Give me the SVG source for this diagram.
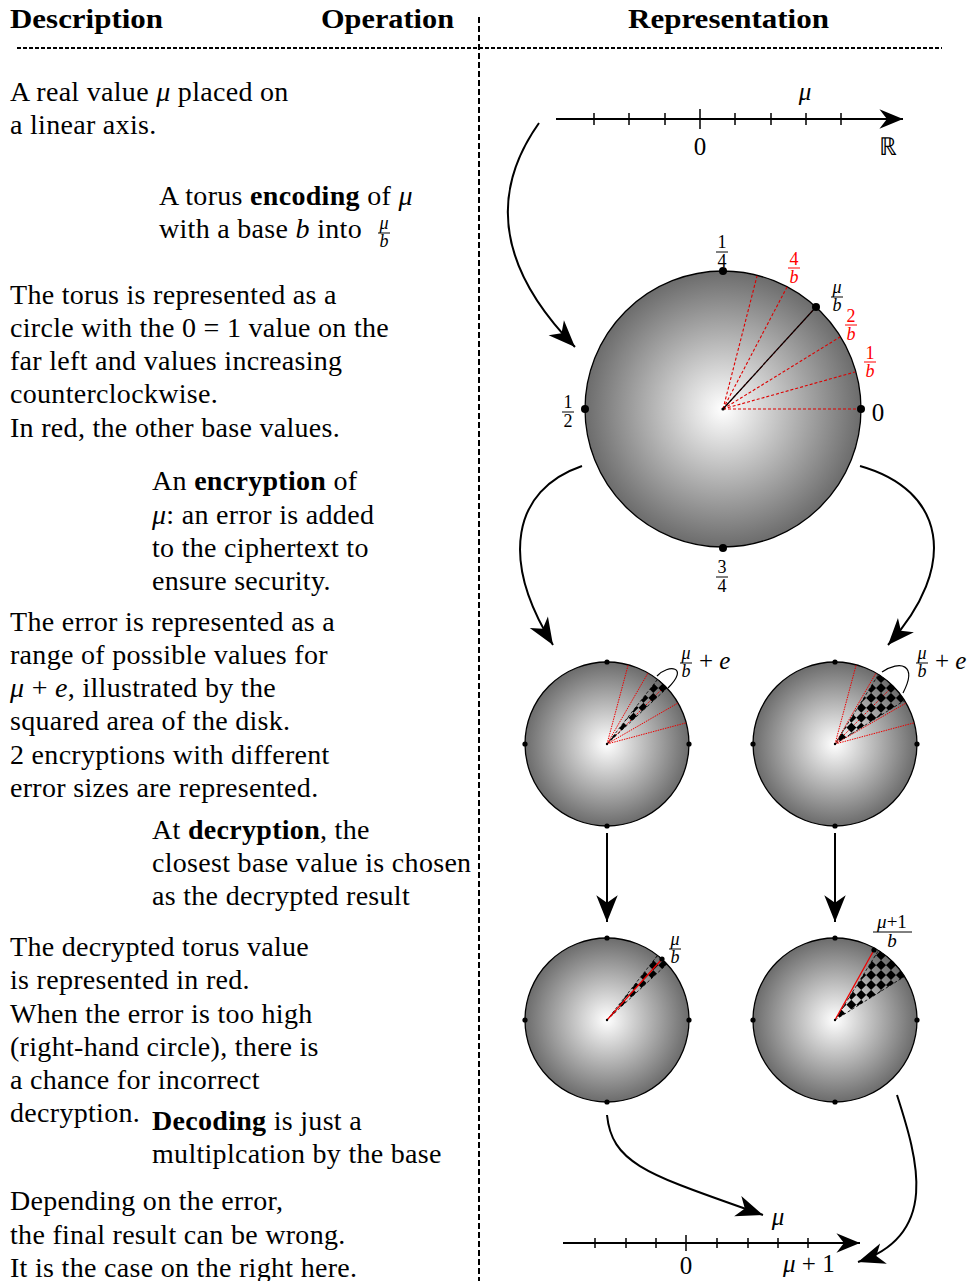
<svg xmlns="http://www.w3.org/2000/svg" width="969" height="1281" viewBox="0 0 969 1281">
<defs>
<radialGradient id="g" cx="0.5" cy="0.5" r="0.5">
<stop offset="0" stop-color="#ffffff"/>
<stop offset="1" stop-color="#6c6c6c"/>
</radialGradient>
<pattern id="chk" width="14" height="14" patternUnits="userSpaceOnUse" patternTransform="rotate(45)">
<rect width="7" height="7" fill="#000"/>
<rect x="7" y="7" width="7" height="7" fill="#000"/>
</pattern>
<marker id="st" markerUnits="userSpaceOnUse" markerWidth="30" markerHeight="30" viewBox="-26 -12 28 24" refX="0" refY="0" orient="auto">
<path d="M0,0 L-25,-10 L-18,0 L-25,10 Z" fill="#000"/>
</marker>
<marker id="sta" markerUnits="userSpaceOnUse" markerWidth="30" markerHeight="30" viewBox="-26 -12 28 24" refX="0" refY="0" orient="auto">
<path d="M0,0 L-22,-9 L-15,0 L-22,9 Z" fill="#000"/>
</marker>
</defs>
<style>
.t{font-family:"Liberation Serif","Times New Roman",serif;font-size:28px;letter-spacing:0.3px;fill:#000}
.h{font-family:"Liberation Serif","Times New Roman",serif;font-size:27px;font-weight:bold;fill:#000}
.i{font-style:italic}
.b{font-weight:bold}
.f{font-family:"Liberation Serif","Times New Roman",serif;font-size:18px;letter-spacing:0;text-anchor:middle;fill:#000}
.fi{font-style:italic}
.m{font-family:"Liberation Serif","Times New Roman",serif;font-size:25px;fill:#000}
.red{fill:#ff0000}
.bar{stroke:#000;stroke-width:1}
.rbar{stroke:#ff0000;stroke-width:1}
.conn{fill:none;stroke:#000;stroke-width:2}
.axis{fill:none;stroke:#000;stroke-width:2}
.tick{stroke:#000;stroke-width:1.5}
.circ{fill:url(#g);stroke:#000;stroke-width:1.3}
.rdash{stroke:#dd0000;stroke-width:1.1;stroke-dasharray:3 2;fill:none}
.rdot{stroke:#ee0000;stroke-width:1;stroke-dasharray:1.5 1;fill:none}
.rsol{stroke:#ee0000;stroke-width:1.3;fill:none}
.wedge{fill:url(#chk);stroke:#000;stroke-width:0.8;stroke-dasharray:3 2}
</style>
<rect width="969" height="1281" fill="#fff"/>

<g id="header">
<text class="h" x="10" y="28" textLength="153" lengthAdjust="spacingAndGlyphs">Description</text>
<text class="h" x="321" y="28" textLength="133" lengthAdjust="spacingAndGlyphs">Operation</text>
<text class="h" x="628" y="28" textLength="201" lengthAdjust="spacingAndGlyphs">Representation</text>
<line x1="17" y1="48" x2="942" y2="48" stroke="#000" stroke-width="2" stroke-dasharray="4 2"/>
<line x1="479" y1="17" x2="479" y2="1281" stroke="#000" stroke-width="2" stroke-dasharray="6 3"/>
</g>

<g id="descriptions" class="t">
<text x="10" y="101">A real value <tspan class="i">μ</tspan> placed on</text>
<text x="10" y="134">a linear axis.</text>
<text x="159" y="205">A torus <tspan class="b">encoding</tspan> of <tspan class="i">μ</tspan></text>
<text x="159" y="238">with a base <tspan class="i">b</tspan> into</text>
<text class="f fi" x="384" y="229">μ</text>
<line class="bar" x1="378" y1="233" x2="390" y2="233"/>
<text class="f fi" x="384" y="247">b</text>
<text x="10" y="304">The torus is represented as a</text>
<text x="10" y="337">circle with the 0 = 1 value on the</text>
<text x="10" y="370">far left and values increasing</text>
<text x="10" y="403">counterclockwise.</text>
<text x="10" y="437">In red, the other base values.</text>
<text x="152" y="490">An <tspan class="b">encryption</tspan> of</text>
<text x="152" y="524"><tspan class="i">μ</tspan>: an error is added</text>
<text x="152" y="557">to the ciphertext to</text>
<text x="152" y="590">ensure security.</text>
<text x="10" y="631">The error is represented as a</text>
<text x="10" y="664">range of possible values for</text>
<text x="10" y="697"><tspan class="i">μ</tspan> + <tspan class="i">e</tspan>, illustrated by the</text>
<text x="10" y="730">squared area of the disk.</text>
<text x="10" y="764">2 encryptions with different</text>
<text x="10" y="797">error sizes are represented.</text>
<text x="152" y="839">At <tspan class="b">decryption</tspan>, the</text>
<text x="152" y="872">closest base value is chosen</text>
<text x="152" y="905">as the decrypted result</text>
<text x="10" y="956">The decrypted torus value</text>
<text x="10" y="989">is represented in red.</text>
<text x="10" y="1023">When the error is too high</text>
<text x="10" y="1056">(right-hand circle), there is</text>
<text x="10" y="1089">a chance for incorrect</text>
<text x="10" y="1122">decryption.</text>
<text x="152" y="1130"><tspan class="b">Decoding</tspan> is just a</text>
<text x="152" y="1163">multiplcation by the base</text>
<text x="10" y="1210">Depending on the error,</text>
<text x="10" y="1244">the final result can be wrong.</text>
<text x="10" y="1277">It is the case on the right here.</text>
</g>

<g id="axis-top">
<line class="axis" x1="556" y1="119" x2="903" y2="119" marker-end="url(#sta)"/>
<g class="tick">
<line x1="594" y1="113" x2="594" y2="125"/>
<line x1="629" y1="113" x2="629" y2="125"/>
<line x1="665" y1="113" x2="665" y2="125"/>
<line x1="700" y1="109" x2="700" y2="129"/>
<line x1="735" y1="113" x2="735" y2="125"/>
<line x1="771" y1="113" x2="771" y2="125"/>
<line x1="806" y1="113" x2="806" y2="125"/>
<line x1="841" y1="113" x2="841" y2="125"/>
</g>
<text class="m" x="700" y="155" text-anchor="middle">0</text>
<text class="m" x="888" y="155" text-anchor="middle">ℝ</text>
<text class="m i" x="805" y="100" text-anchor="middle">μ</text>
</g>

<g id="torus">
<circle class="circ" cx="723" cy="409" r="138"/>
<g class="rdash">
<line x1="723" y1="409" x2="861" y2="409"/>
<line x1="723" y1="409" x2="855" y2="372"/>
<line x1="723" y1="409" x2="840" y2="337"/>
<line x1="723" y1="409" x2="816" y2="307"/>
<line x1="723" y1="409" x2="787" y2="287"/>
<line x1="723" y1="409" x2="757" y2="276"/>
</g>
<line x1="723" y1="409" x2="816" y2="307" stroke="#000" stroke-width="1.2"/>
<circle cx="723" cy="409" r="1.6"/>
<circle cx="723" cy="271" r="4"/>
<circle cx="585" cy="409" r="4"/>
<circle cx="861" cy="409" r="4"/>
<circle cx="723" cy="548" r="4"/>
<circle cx="816" cy="307" r="4"/>
<text class="f" x="722" y="248">1</text>
<line class="bar" x1="716" y1="252" x2="728" y2="252"/>
<text class="f" x="722" y="267">4</text>
<text class="f red" x="794" y="265">4</text>
<line class="rbar" x1="788" y1="268" x2="800" y2="268"/>
<text class="f fi red" x="794" y="283">b</text>
<text class="f fi" x="837" y="293">μ</text>
<line class="bar" x1="831" y1="297" x2="843" y2="297"/>
<text class="f fi" x="837" y="311">b</text>
<text class="f red" x="851" y="322">2</text>
<line class="rbar" x1="845" y1="325" x2="857" y2="325"/>
<text class="f fi red" x="851" y="340">b</text>
<text class="f red" x="870" y="359">1</text>
<line class="rbar" x1="864" y1="362" x2="876" y2="362"/>
<text class="f fi red" x="870" y="377">b</text>
<text class="m" x="878" y="421" text-anchor="middle">0</text>
<text class="f" x="568" y="408">1</text>
<line class="bar" x1="562" y1="412" x2="574" y2="412"/>
<text class="f" x="568" y="427">2</text>
<text class="f" x="722" y="573">3</text>
<line class="bar" x1="716" y1="577" x2="728" y2="577"/>
<text class="f" x="722" y="592">4</text>
</g>

<g id="enc-left">
<circle class="circ" cx="607" cy="744" r="82"/>
<g class="rdot">
<line x1="607" y1="744" x2="686.2" y2="722.8"/>
<line x1="607" y1="744" x2="678" y2="703"/>
<line x1="607" y1="744" x2="665" y2="686"/>
<line x1="607" y1="744" x2="648" y2="673"/>
<line x1="607" y1="744" x2="628.2" y2="664.8"/>
</g>
<path class="wedge" d="M607,744 L667,688.1 A82,82 0 0 0 657.5,679.4 Z"/>
<circle cx="607" cy="744" r="1.2"/>
<circle cx="607" cy="662" r="2.6"/>
<circle cx="525" cy="744" r="2.6"/>
<circle cx="689" cy="744" r="2.6"/>
<circle cx="607" cy="826" r="2.6"/>
<path d="M657,676 C668,664 690,666 668,688" fill="none" stroke="#000" stroke-width="1.2"/>
<text class="f fi" x="686" y="659">μ</text>
<line class="bar" x1="680" y1="663" x2="692" y2="663"/>
<text class="f fi" x="686" y="677">b</text>
<text class="m" x="699" y="669">+ <tspan class="i">e</tspan></text>
</g>

<g id="enc-right">
<circle class="circ" cx="835" cy="744" r="82"/>
<g class="rdot">
<line x1="835" y1="744" x2="914.2" y2="722.8"/>
<line x1="835" y1="744" x2="906" y2="703"/>
<line x1="835" y1="744" x2="893" y2="686"/>
<line x1="835" y1="744" x2="876" y2="673"/>
<line x1="835" y1="744" x2="856.2" y2="664.8"/>
</g>
<path class="wedge" d="M835,744 L904.5,700.5 A82,82 0 0 0 878.5,674.5 Z"/>
<circle cx="835" cy="744" r="1.2"/>
<circle cx="835" cy="662" r="2.6"/>
<circle cx="753" cy="744" r="2.6"/>
<circle cx="917" cy="744" r="2.6"/>
<circle cx="835" cy="826" r="2.6"/>
<path d="M882,672 C900,660 918,664 903,693" fill="none" stroke="#000" stroke-width="1.2"/>
<text class="f fi" x="922" y="659">μ</text>
<line class="bar" x1="916" y1="663" x2="928" y2="663"/>
<text class="f fi" x="922" y="677">b</text>
<text class="m" x="935" y="669">+ <tspan class="i">e</tspan></text>
</g>

<g id="dec-left">
<circle class="circ" cx="607" cy="1020" r="82"/>
<path class="wedge" d="M607,1020 L667,964.1 A82,82 0 0 0 657.5,955.4 Z"/>
<line class="rsol" x1="607" y1="1020" x2="662" y2="959"/>
<circle cx="607" cy="1020" r="1.2"/>
<circle cx="662" cy="959" r="2.6"/>
<circle cx="607" cy="938" r="2.6"/>
<circle cx="525" cy="1020" r="2.6"/>
<circle cx="689" cy="1020" r="2.6"/>
<circle cx="607" cy="1102" r="2.6"/>
<text class="f fi" x="675" y="945">μ</text>
<line class="bar" x1="669" y1="949" x2="681" y2="949"/>
<text class="f fi" x="675" y="963">b</text>
</g>

<g id="dec-right">
<circle class="circ" cx="835" cy="1020" r="82"/>
<path class="wedge" d="M835,1020 L904.5,976.5 A82,82 0 0 0 878.5,950.5 Z"/>
<line class="rsol" x1="835" y1="1020" x2="874" y2="950"/>
<circle cx="835" cy="1020" r="1.2"/>
<circle cx="874" cy="950" r="2.6"/>
<circle cx="835" cy="938" r="2.6"/>
<circle cx="753" cy="1020" r="2.6"/>
<circle cx="917" cy="1020" r="2.6"/>
<circle cx="835" cy="1102" r="2.6"/>
<text class="f" x="892" y="928" style="font-size:19px"><tspan class="fi">μ</tspan>+1</text>
<line class="bar" x1="873" y1="932" x2="912" y2="932"/>
<text class="f fi" x="892" y="947" style="font-size:19px">b</text>
</g>

<g id="axis-bottom">
<line class="axis" x1="563" y1="1243" x2="860" y2="1243" marker-end="url(#sta)"/>
<g class="tick">
<line x1="595" y1="1238" x2="595" y2="1248"/>
<line x1="626" y1="1238" x2="626" y2="1248"/>
<line x1="656" y1="1238" x2="656" y2="1248"/>
<line x1="686" y1="1235" x2="686" y2="1251"/>
<line x1="717" y1="1238" x2="717" y2="1248"/>
<line x1="748" y1="1238" x2="748" y2="1248"/>
<line x1="778" y1="1238" x2="778" y2="1248"/>
<line x1="808" y1="1238" x2="808" y2="1248"/>
</g>
<text class="m" x="686" y="1274" text-anchor="middle">0</text>
<text class="m i" x="778" y="1225" text-anchor="middle">μ</text>
<text class="m" x="783" y="1272"><tspan class="i">μ</tspan> + 1</text>
</g>

<g id="connectors" class="conn">
<path d="M539,123 C495,185 490,260 575,347" marker-end="url(#st)"/>
<path d="M582,466 C512,490 500,560 553,645" marker-end="url(#st)"/>
<path d="M860,466 C945,490 960,565 888,645" marker-end="url(#st)"/>
<path d="M607,833 L607,922" marker-end="url(#st)"/>
<path d="M835,833 L835,922" marker-end="url(#st)"/>
<path d="M607,1115 C612,1165 650,1175 763,1215" marker-end="url(#st)"/>
<path d="M897,1095 C918,1160 940,1235 858,1262" marker-end="url(#st)"/>
</g>
</svg>
